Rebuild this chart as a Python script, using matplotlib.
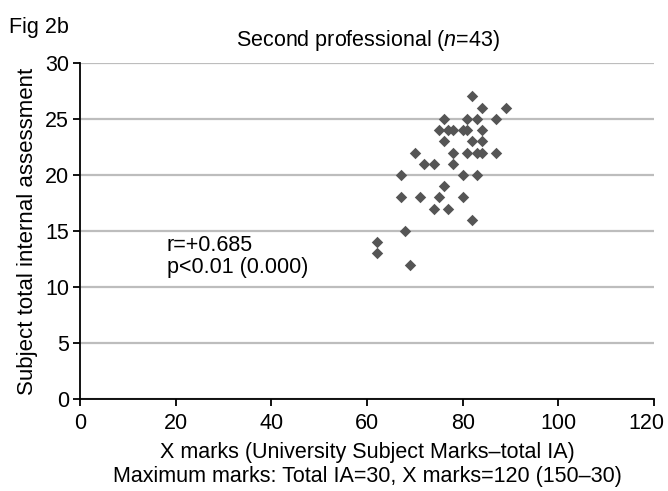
import matplotlib
matplotlib.use("Agg")
import matplotlib.pyplot as plt
from matplotlib.transforms import ScaledTranslation

plt.rcParams['font.family'] = ['Liberation Sans', 'DejaVu Sans']
plt.rcParams['mathtext.fontset'] = 'custom'
plt.rcParams['mathtext.rm'] = 'Liberation Sans'
plt.rcParams['mathtext.it'] = 'Liberation Sans:italic'

x_marks = [76, 81, 83, 87,
           75, 77, 78, 80, 81, 84,
           76, 82, 84,
           70, 78, 81, 83, 84, 87,
           72, 74, 78,
           67, 80, 83,
           76,
           67, 71, 75, 80,
           74, 77,
           82, 68, 62, 62, 69,
           82, 84, 89]
ia_marks = [25, 25, 25, 25,
            24, 24, 24, 24, 24, 24,
            23, 23, 23,
            22, 22, 22, 22, 22, 22,
            21, 21, 21,
            20, 20, 20,
            19,
            18, 18, 18, 18,
            17, 17,
            16, 15, 14, 13, 12,
            27, 26, 26]
x_ticks = [0, 20, 40, 60, 80, 100, 120]
y_ticks = [0, 5, 10, 15, 20, 25, 30]

FS = 15.5

fig = plt.figure(figsize=(6.68, 4.91), dpi=100)
ax = fig.add_axes([0.120, 0.187, 0.859, 0.685])

ax.scatter(x_marks, ia_marks, marker='D', s=34, color='#555555', zorder=3, linewidths=0)

ax.set_xlim(0, 120)
ax.set_ylim(0, 30)
ax.set_xticks(x_ticks)
ax.set_yticks(y_ticks)
ax.yaxis.grid(True, color='#bdbdbd', linewidth=1.6)
ax.set_axisbelow(True)
for s in ['top', 'right']:
    ax.spines[s].set_visible(False)
for s in ['left', 'bottom']:
    ax.spines[s].set_color('black')
    ax.spines[s].set_linewidth(1.3)
ax.tick_params(axis='both', direction='out', length=5, width=1.3, labelsize=FS, colors='black')
ax.tick_params(axis='x', pad=5)
ax.tick_params(axis='y', pad=3)

ax.set_xlabel('X marks (University Subject Marks\u2013total IA)\nMaximum marks: Total IA=30, X marks=120 (150\u201330)',
              fontsize=FS, labelpad=6, linespacing=1.15)
ax.set_ylabel('Subject total internal assessment', fontsize=16, labelpad=5)

ax.text(18.1, 12.7, 'r=+0.685\np<0.01 (0.000)', fontsize=FS, va='center', ha='left', linespacing=1.05)

fig.text(0.551, 0.918, r'Second professional ($\mathit{n}$=43)', fontsize=FS, ha='center', va='center')
fig.text(0.014, 0.945, 'Fig 2b', fontsize=FS, ha='left', va='center')

fig.canvas.draw()
last = ax.xaxis.get_major_ticks()[-1].label1
last.set_transform(last.get_transform() + ScaledTranslation(-0.08, 0, fig.dpi_scale_trans))

fig.savefig('out.png', dpi=100)
